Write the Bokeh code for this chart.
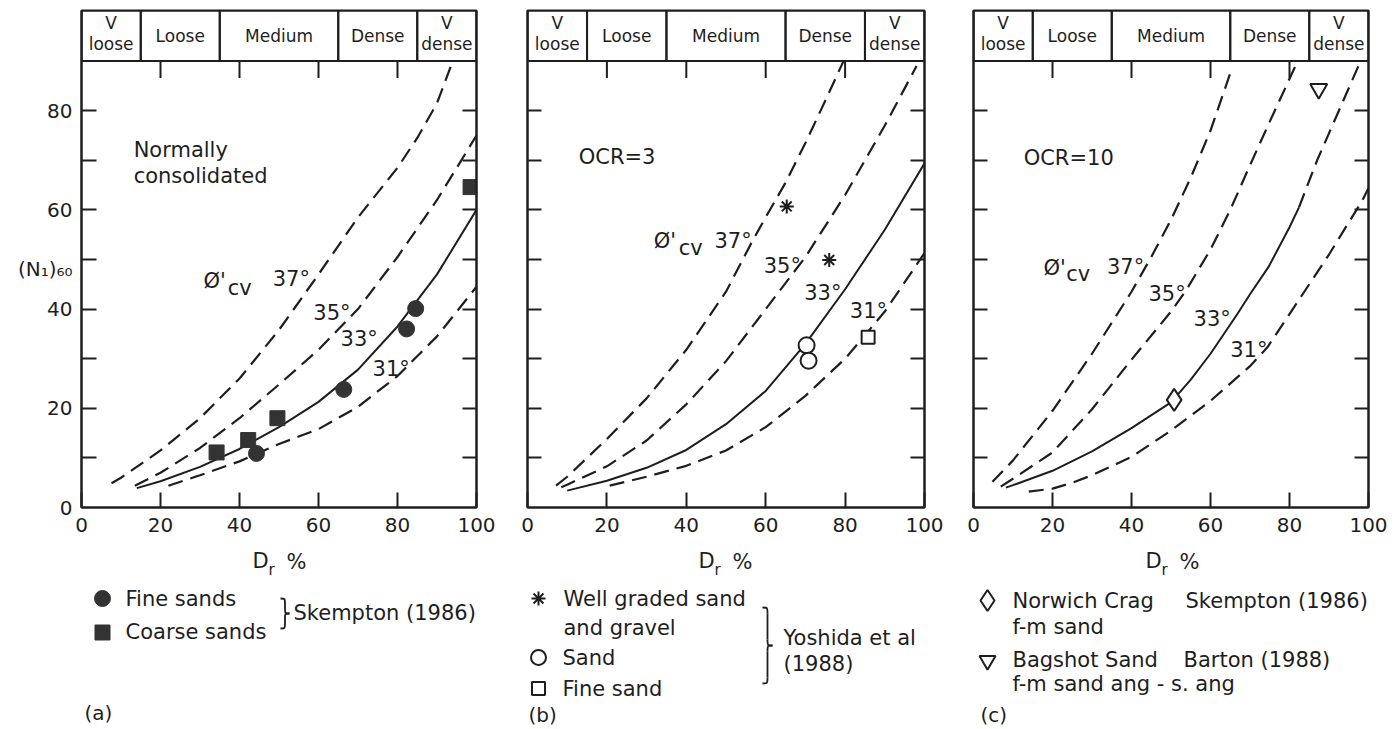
from bokeh.plotting import figure
from bokeh.models import Range1d, FixedTicker, LinearAxis
from bokeh.layouts import column, row
from bokeh.embed import file_html
from bokeh.resources import INLINE
from bokeh.core.properties import value

FONT = "DejaVu Sans"
INK = "#1e1e1e"
MARK = "#333333"
DASH = "15 8"
Y_TOP = 100.2

# ---------------- shared axis / band definitions ----------------
dr_ticks = [0, 20, 40, 60, 80, 100]
n_label_ticks = [0, 20, 40, 48, 60, 80]
n_axis_title = {48: "(N₁)₆₀"}
n_all_ticks = [10, 20, 30, 40, 50, 60, 70, 80]
top_ticks = [20, 40, 60, 80]
band_edges = [0, 15, 35, 65, 85, 100]
band_floor = 90
band_upper = ["V", "V"]
band_upper_x = [7.5, 92.5]
band_lower = ["loose", "dense"]
band_single = ["Loose", "Medium", "Dense"]
band_single_x = [25, 50, 75]

# ---------------- panel (a): normally consolidated ----------------
a37_dr = [7.6, 10, 20, 30, 40, 50, 60, 70, 80, 85, 90, 94]
a37_n = [4.9, 6.0, 11.5, 18.0, 26.0, 35.8, 47.0, 58.5, 68.5, 74.5, 81.5, 90.0]
a35_dr = [13.5, 20, 30, 40, 50, 60, 70, 80, 90, 100]
a35_n = [4.4, 7.0, 12.0, 18.0, 24.8, 31.8, 40.0, 50.5, 62.0, 75.0]
a33_dr = [14, 20, 30, 40, 50, 60, 70, 80, 90, 100]
a33_n = [3.9, 5.3, 8.2, 11.8, 16.2, 21.3, 27.8, 36.5, 47.0, 60.0]
a31_dr = [22, 30, 40, 50, 60, 70, 80, 90, 100]
a31_n = [4.4, 6.5, 9.3, 12.8, 15.8, 20.3, 26.5, 34.5, 44.5]
a_fine_dr = [44.3, 66.4, 82.3, 84.6]
a_fine_n = [10.9, 23.8, 36.0, 40.1]
a_coarse_dr = [34.2, 42.2, 49.6, 98.5]
a_coarse_n = [11.1, 13.6, 18.0, 64.6]

# ---------------- panel (b): OCR = 3 ----------------
b37_dr = [7.2, 10, 20, 30, 40, 50, 56.5, 60, 65, 70, 75, 79.6]
b37_n = [4.4, 6.2, 13.8, 22.0, 31.8, 43.5, 53.5, 58.5, 65.5, 73.5, 82.0, 90.0]
b35_dr = [8.5, 10, 20, 30, 40, 50, 60, 70, 80, 90, 98]
b35_n = [4.1, 4.6, 8.3, 13.5, 20.8, 29.5, 40.0, 50.5, 63.0, 77.0, 89.0]
b33_dr = [10, 20, 30, 40, 50, 60, 70, 80, 90, 100]
b33_n = [3.4, 5.4, 8.0, 11.6, 16.8, 23.5, 33.0, 44.0, 56.0, 69.4]
b31_dr = [20.7, 30, 40, 50, 60, 70, 80, 90, 100]
b31_n = [4.4, 6.2, 8.4, 11.5, 16.2, 22.5, 30.0, 39.5, 51.3]
b_wellgraded_dr = [65.3, 76.0]
b_wellgraded_n = [60.7, 49.9]
b_sand_dr = [70.3, 70.8]
b_sand_n = [32.7, 29.6]
b_finesand_dr = [85.8]
b_finesand_n = [34.3]

# ---------------- panel (c): OCR = 10 ----------------
c37_dr = [4.8, 10, 20, 30, 40, 45, 50, 55, 60, 65.5]
c37_n = [5.2, 9.5, 19.5, 31.0, 43.5, 50.5, 58.0, 66.5, 76.0, 88.7]
c35_dr = [6.9, 10, 20, 30, 40, 50, 54, 60, 65, 70, 75, 81.9]
c35_n = [4.2, 5.8, 11.1, 19.8, 29.8, 39.5, 44.0, 52.0, 60.0, 69.0, 77.8, 89.7]
c33_dr = [8.2, 10, 20, 30, 40, 50, 55, 60, 66.8, 70, 74.7, 80, 82.4]
c33_n = [4.0, 4.5, 7.4, 11.3, 16.0, 21.2, 25.8, 31.0, 39.0, 43.0, 48.5, 56.5, 60.5]
c33_ext_dr = [82.4, 87, 92.5, 98]
c33_ext_n = [60.5, 70.0, 80.0, 90.0]
c31_dr = [14, 20, 25, 30, 40, 50, 60, 70, 74.4, 80, 90, 98.5, 100]
c31_n = [3.2, 3.8, 5.0, 6.5, 10.2, 15.5, 21.5, 28.5, 32.3, 39.0, 51.0, 62.0, 64.4]
c_norwich_dr = [50.8]
c_norwich_n = [21.7]
c_bagshot_dr = [87.4]
c_bagshot_n = [84.4]

# curve annotation text (angle labels)
angle_labels = ["37°", "35°", "33°", "31°"]
a_angle_x = [48.4, 58.7, 65.6, 73.7]
a_angle_y = [46.0, 39.3, 33.9, 28.0]
b_angle_x = [47.1, 59.5, 69.7, 81.2]
b_angle_y = [53.8, 48.6, 43.2, 39.6]
c_angle_x = [33.8, 44.3, 55.7, 65.0]
c_angle_y = [48.4, 43.1, 38.0, 31.7]


def style_axis(ax):
    ax.axis_line_color = INK
    ax.axis_line_width = 2
    ax.major_tick_line_color = INK
    ax.major_tick_line_width = 2
    ax.major_tick_in = 15
    ax.major_tick_out = 0
    ax.minor_tick_line_color = INK
    ax.minor_tick_line_width = 2
    ax.minor_tick_in = 14
    ax.minor_tick_out = 0
    ax.major_label_text_font = FONT
    ax.major_label_text_font_size = "20px"
    ax.major_label_text_color = INK


def make_panel(width, left, right, labelled):
    p = figure(width=width, height=545, x_range=Range1d(0, 100), y_range=Range1d(0, Y_TOP),
               output_backend="svg", toolbar_location=None,
               x_axis_location=None, y_axis_location=None,
               min_border_left=left, min_border_right=right,
               min_border_top=10, min_border_bottom=38)
    p.grid.visible = False
    p.outline_line_color = INK
    p.outline_line_width = 2
    p.background_fill_color = "white"
    p.border_fill_color = "white"

    xa = LinearAxis(ticker=FixedTicker(ticks=dr_ticks))
    style_axis(xa)
    xa.major_label_standoff = 10
    p.add_layout(xa, "below")

    if labelled:
        # labels on majors (no visible major tick); visible ticks drawn as minors
        ya = LinearAxis(ticker=FixedTicker(ticks=n_label_ticks, minor_ticks=n_all_ticks))
        style_axis(ya)
        ya.major_tick_in = 0
        ya.minor_tick_in = 15
        ya.major_label_overrides = n_axis_title
    else:
        ya = LinearAxis(ticker=FixedTicker(ticks=[], minor_ticks=n_all_ticks))
        style_axis(ya)
    ya.major_label_standoff = 9
    p.add_layout(ya, "left")

    ra = LinearAxis(ticker=FixedTicker(ticks=[], minor_ticks=n_all_ticks))
    style_axis(ra)
    p.add_layout(ra, "right")

    # density band on top
    p.quad(left=band_edges[:-1], right=band_edges[1:], bottom=band_floor, top=Y_TOP,
           fill_color=None, line_color=INK, line_width=2)
    p.segment(x0=top_ticks, y0=band_floor, x1=top_ticks, y1=86.6, line_color=INK, line_width=2)
    p.text(x=band_upper_x, y=97.7, text=band_upper, text_align="center", text_baseline="middle",
           text_font=value(FONT), text_font_size="17px", text_color=INK)
    p.text(x=band_upper_x, y=93.4, text=band_lower, text_align="center", text_baseline="middle",
           text_font=value(FONT), text_font_size="17px", text_color=INK)
    p.text(x=band_single_x, y=95.0, text=band_single, text_align="center", text_baseline="middle",
           text_font=value(FONT), text_font_size="17px", text_color=INK)
    return p


def curves(p, c37, c35, c33, c31):
    p.line(c37[0], c37[1], line_color=INK, line_width=2.2, line_dash=DASH)
    p.line(c35[0], c35[1], line_color=INK, line_width=2.2, line_dash=DASH)
    p.line(c33[0], c33[1], line_color=INK, line_width=2)
    p.line(c31[0], c31[1], line_color=INK, line_width=2.2, line_dash=DASH)


def txt(p, x, y, t, size="21px", align="left"):
    p.text(x=x, y=y, text=t, text_align=align, text_baseline="middle",
           text_font=value(FONT), text_font_size=size, text_color=INK)


def phi_label(p, xphi, yphi, xcv, ycv, ax, ay):
    txt(p, [xphi], [yphi], ["Ø'"])
    txt(p, [xcv], [ycv], ["cv"])
    txt(p, ax, ay, angle_labels)


# ---------------- panel (a) ----------------
pa = make_panel(502, 81, 26, True)
curves(pa, (a37_dr, a37_n), (a35_dr, a35_n), (a33_dr, a33_n), (a31_dr, a31_n))
pa.scatter(a_fine_dr, a_fine_n, marker="circle", size=16, fill_color=MARK, line_color=MARK)
pa.scatter(a_coarse_dr, a_coarse_n, marker="square", size=15, fill_color=MARK, line_color=MARK)
txt(pa, [13.2, 13.2], [72.1, 66.9], ["Normally", "consolidated"])
phi_label(pa, 30.9, 45.6, 37.0, 44.3, a_angle_x, a_angle_y)

# ---------------- panel (b) ----------------
pb = make_panel(448, 25, 26, False)
curves(pb, (b37_dr, b37_n), (b35_dr, b35_n), (b33_dr, b33_n), (b31_dr, b31_n))
pb.scatter(b_wellgraded_dr, b_wellgraded_n, marker="asterisk", size=14, line_color=INK, line_width=2)
pb.scatter(b_sand_dr, b_sand_n, marker="circle", size=16, fill_color="white", line_color=INK, line_width=2)
pb.scatter(b_finesand_dr, b_finesand_n, marker="square", size=13, fill_color="white", line_color=INK, line_width=2)
txt(pb, [12.9], [70.6], ["OCR=3"])
phi_label(pb, 31.8, 53.8, 38.1, 52.3, b_angle_x, b_angle_y)

# ---------------- panel (c) ----------------
pc = make_panel(450, 23, 32, False)
curves(pc, (c37_dr, c37_n), (c35_dr, c35_n), (c33_dr, c33_n), (c31_dr, c31_n))
pc.line(c33_ext_dr, c33_ext_n, line_color=INK, line_width=2.2, line_dash=DASH)
pc.scatter(c_norwich_dr, c_norwich_n, marker="diamond", size=22, fill_color="white", line_color=INK, line_width=2)
pc.scatter(c_bagshot_dr, c_bagshot_n, marker="inverted_triangle", size=17, fill_color="white", line_color=INK, line_width=2)
txt(pc, [12.7], [70.4], ["OCR=10"])
phi_label(pc, 17.7, 48.3, 23.5, 47.0, c_angle_x, c_angle_y)

# ---------------- legend strip (page coordinates) ----------------
leg = figure(width=1400, height=184, x_range=Range1d(0, 1400), y_range=Range1d(729, 545),
             output_backend="svg", toolbar_location=None, min_border=0,
             x_axis_location=None, y_axis_location=None)
leg.grid.visible = False
leg.outline_line_color = None
leg.background_fill_color = "white"
leg.border_fill_color = "white"

# x-axis titles "Dr %"
dr_title_x = [252, 698, 1145]
for x0 in dr_title_x:
    txt(leg, [x0], [560], ["D"], size="21px")
    txt(leg, [x0 + 16], [569], ["r"], size="15px")
    txt(leg, [x0 + 34], [561], ["%"], size="21px")

# legend (a)
leg.scatter([102], [598], marker="circle", size=16, fill_color=MARK, line_color=MARK)
leg.scatter([102], [632], marker="square", size=15, fill_color=MARK, line_color=MARK)
txt(leg, [125, 125, 293], [598, 631, 612], ["Fine sands", "Coarse sands", "Skempton (1986)"])

# legend (b)
leg.scatter([538], [598], marker="asterisk", size=14, line_color=INK, line_width=2)
leg.scatter([538], [657], marker="circle", size=15, fill_color="white", line_color=INK, line_width=2)
leg.scatter([538], [688], marker="square", size=13, fill_color="white", line_color=INK, line_width=2)
txt(leg, [563, 563, 562, 562, 783, 783], [598, 627, 657, 688, 637, 663],
    ["Well graded sand", "and gravel", "Sand", "Fine sand", "Yoshida et al", "(1988)"])

# legend (c)
leg.scatter([987], [600], marker="diamond", size=21, fill_color="white", line_color=INK, line_width=2)
leg.scatter([987], [660], marker="inverted_triangle", size=16, fill_color="white", line_color=INK, line_width=2)
txt(leg, [1012, 1185, 1012, 1012, 1183, 1012], [600, 600, 626, 659, 659, 683],
    ["Norwich Crag", "Skempton (1986)", "f-m sand", "Bagshot Sand", "Barton (1988)",
     "f-m sand ang - s. ang"])

# panel tags
txt(leg, [84, 528, 980], [712, 714, 714], ["(a)", "(b)", "(c)"], size="20px")


def brace(p, x0, w, ytop, ybot):
    ym = (ytop + ybot) / 2.0
    xm = x0 + w / 2.0
    xt = x0 + w
    r = min(w * 0.6, (ybot - ytop) / 5.0)
    segs = [
        (x0, ytop, xm, ytop + r, xm, ytop, xm, ytop),
        (xm, ytop + r, xm, ym - r, xm, ytop + r, xm, ym - r),
        (xm, ym - r, xt, ym, xm, ym, xm, ym),
        (xt, ym, xm, ym + r, xm, ym, xm, ym),
        (xm, ym + r, xm, ybot - r, xm, ym + r, xm, ybot - r),
        (xm, ybot - r, x0, ybot, xm, ybot, xm, ybot),
    ]
    p.bezier(x0=[s[0] for s in segs], y0=[s[1] for s in segs],
             x1=[s[2] for s in segs], y1=[s[3] for s in segs],
             cx0=[s[4] for s in segs], cy0=[s[5] for s in segs],
             cx1=[s[6] for s in segs], cy1=[s[7] for s in segs],
             line_color=INK, line_width=1.8)


brace(leg, 280, 9, 598, 628)
brace(leg, 762, 10, 607, 683)

layout = column(row(pa, pb, pc), leg)
open("out.html", "w").write(file_html(layout, INLINE))
